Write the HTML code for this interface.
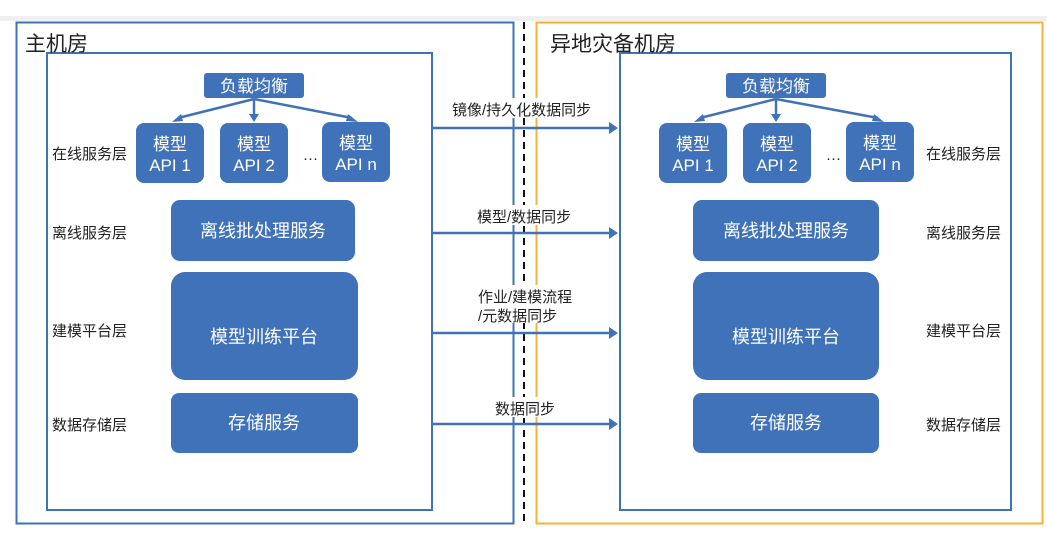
<!DOCTYPE html>
<html><head><meta charset="utf-8"><style>
body{margin:0;background:#fff}
svg{display:block;font-family:"Liberation Sans","Noto Sans CJK SC",sans-serif}
</style></head><body>
<svg width="1047" height="537" viewBox="0 0 1047 537">
<rect x="0" y="15" width="1047" height="6" fill="#f0f0f0"/>
<rect x="0" y="0" width="1047" height="16" fill="#fff"/>
<line x1="524" y1="22" x2="524" y2="523" stroke="#111" stroke-width="2" stroke-dasharray="7,5"/>
<rect x="16.5" y="22.5" width="497" height="501" fill="none" stroke="#3e73b6" stroke-width="2"/>
<rect x="536.5" y="22.5" width="506" height="501" fill="none" stroke="#f5b335" stroke-width="2"/>
<rect x="47" y="53" width="385" height="457" fill="none" stroke="#3e73b6" stroke-width="2"/>
<rect x="620" y="53" width="391" height="457" fill="none" stroke="#3e73b6" stroke-width="2"/>
<text x="25" y="51" font-size="21" fill="#222">主机房</text>
<text x="550" y="51" font-size="21" fill="#222">异地灾备机房</text>
<g fill="#3f72b8">
<rect x="204" y="73" width="100" height="25" rx="3"/>
<rect x="136" y="123" width="68" height="60" rx="8"/>
<rect x="220" y="123" width="68" height="60" rx="8"/>
<rect x="322" y="122" width="68" height="60" rx="8"/>
<rect x="171" y="200" width="184" height="61" rx="9"/>
<rect x="171" y="272" width="187" height="108" rx="14"/>
<rect x="171" y="393" width="187" height="60" rx="8"/>
<rect x="726" y="73" width="100" height="25" rx="3"/>
<rect x="659" y="123" width="68" height="60" rx="8"/>
<rect x="743" y="123" width="68" height="60" rx="8"/>
<rect x="846" y="122" width="68" height="60" rx="8"/>
<rect x="693" y="200" width="186" height="61" rx="9"/>
<rect x="693" y="272" width="186" height="108" rx="14"/>
<rect x="693" y="393" width="186" height="60" rx="8"/>
</g>
<g stroke="#3f72b8" stroke-width="2.5" fill="none">
<line x1="254" y1="99" x2="178" y2="118"/><line x1="254" y1="99" x2="254" y2="116"/><line x1="254" y1="99" x2="352" y2="118"/>
<line x1="776" y1="99" x2="700" y2="118"/><line x1="776" y1="99" x2="776" y2="116"/><line x1="776" y1="99" x2="878" y2="118"/>
<line x1="432" y1="128" x2="610" y2="128"/><line x1="432" y1="233" x2="610" y2="233"/>
<line x1="432" y1="333" x2="610" y2="333"/><line x1="432" y1="424" x2="610" y2="424"/>
</g>
<g fill="#3f72b8">
<polygon points="172,122 181,114 183,121"/><polygon points="249,114 259,114 254,122"/><polygon points="358,122 348,114 346,121"/>
<polygon points="694,122 703,114 705,121"/><polygon points="771,114 781,114 776,122"/><polygon points="884,122 874,114 872,121"/>
<polygon points="618,128 609,122 609,134"/><polygon points="618,233 609,227 609,239"/>
<polygon points="618,333 609,327 609,339"/><polygon points="618,424 609,418 609,430"/>
</g>
<g fill="#fff" font-size="17" text-anchor="middle">
<text x="254" y="92">负载均衡</text><text x="776" y="92">负载均衡</text>
<text x="170" y="150">模型</text><text x="170" y="171">API 1</text>
<text x="254" y="150">模型</text><text x="254" y="171">API 2</text>
<text x="356" y="149">模型</text><text x="356" y="170">API n</text>
<text x="693" y="150">模型</text><text x="693" y="171">API 1</text>
<text x="777" y="150">模型</text><text x="777" y="171">API 2</text>
<text x="880" y="149">模型</text><text x="880" y="170">API n</text>
<text x="263" y="237" font-size="18">离线批处理服务</text><text x="786" y="237" font-size="18">离线批处理服务</text>
<text x="264" y="343" font-size="18">模型训练平台</text><text x="786" y="343" font-size="18">模型训练平台</text>
<text x="264" y="429" font-size="18">存储服务</text><text x="786" y="429" font-size="18">存储服务</text>
</g>
<g fill="#222" font-size="15">
<text x="303" y="163">···</text><text x="826" y="163">···</text>
<text x="52" y="159">在线服务层</text><text x="52" y="238">离线服务层</text>
<text x="52" y="336">建模平台层</text><text x="52" y="430">数据存储层</text>
<text x="926" y="159">在线服务层</text><text x="926" y="238">离线服务层</text>
<text x="926" y="336">建模平台层</text><text x="926" y="430">数据存储层</text>
</g>
<g font-size="15" fill="#222">
<rect x="450" y="98" width="155" height="20" fill="#fff"/><text x="452" y="115">镜像/持久化数据同步</text>
<rect x="475" y="205" width="106" height="20" fill="#fff"/><text x="477" y="222">模型/数据同步</text>
<rect x="476" y="285" width="108" height="38" fill="#fff"/><text x="478" y="302">作业/建模流程</text><text x="478" y="321">/元数据同步</text>
<rect x="493" y="397" width="68" height="20" fill="#fff"/><text x="495" y="414">数据同步</text>
</g>
</svg>
</body></html>
